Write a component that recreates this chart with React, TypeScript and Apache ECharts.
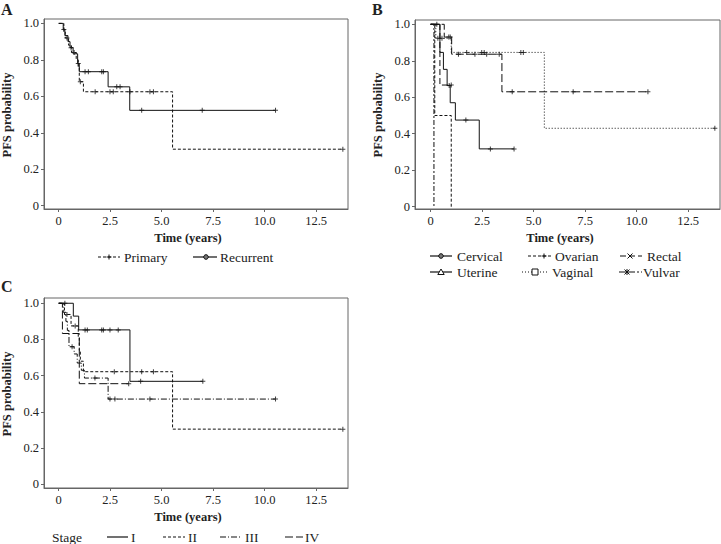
import React, { useEffect, useRef } from 'react';
import * as echarts from 'echarts';

// ---------- axis ticks ----------
const X_TICKS = [0, 2.5, 5, 7.5, 10, 12.5];
const Y_TICKS = [0, 0.2, 0.4, 0.6, 0.8, 1.0];

// ---------- Panel A ----------
const primaryTimes = [0, 0.25, 0.32, 0.48, 0.62, 0.85, 0.95, 1.0, 1.2, 5.53];
const primarySurv = [1, 0.96, 0.92, 0.88, 0.84, 0.8, 0.76, 0.68, 0.625, 0.31];
const primaryEnd = 13.8;
const primaryCensor = [0.4, 0.75, 1.05, 1.77, 2.49, 2.65, 3.46, 4.43, 4.6, 13.8];

const recurrentTimes = [0, 0.22, 0.3, 0.45, 0.55, 0.7, 0.92, 1.0, 2.4, 3.45];
const recurrentSurv = [1, 0.967, 0.933, 0.9, 0.867, 0.833, 0.78, 0.735, 0.652, 0.523];
const recurrentEnd = 10.53;
const recurrentCensor = [0.25, 0.6, 0.95, 1.28, 1.44, 2.09, 2.17, 2.82, 2.98, 4.03, 6.97, 10.53];

// ---------- Panel B ----------
const cervicalTimes = [0, 0.45, 0.62, 0.8, 0.95, 1.2, 2.36];
const cervicalSurv = [1, 0.846, 0.753, 0.664, 0.57, 0.475, 0.317];
const cervicalEnd = 4.05;
const cervicalCensor = [0.9, 1.71, 2.9, 4.05];

const ovarianTimes = [0, 0.2, 1.0];
const ovarianSurv = [1, 0.5, 0];
const ovarianEnd = 1.0;
const ovarianCensor: number[] = [];

const rectalTimes = [0, 0.45];
const rectalSurv = [1, 0.667];
const rectalEnd = 1.0;
const rectalCensor = [1.0];

const uterineTimes = [0, 0.66, 1.02, 3.46];
const uterineSurv = [1, 0.93, 0.836, 0.63];
const uterineEnd = 10.55;
const uterineCensor = [0.3, 0.88, 0.95, 1.35, 2.15, 2.72, 3.33, 3.96, 6.92, 10.55];

const vaginalTimes = [0, 0.25, 1.0, 5.52];
const vaginalSurv = [1, 0.923, 0.846, 0.43];
const vaginalEnd = 13.8;
const vaginalCensor = [0.35, 0.55, 1.75, 2.48, 2.6, 4.38, 4.5, 13.8];

const vulvarTimes = [0, 0.16];
const vulvarSurv = [1, 0];
const vulvarEnd = 0.16;
const vulvarCensor: number[] = [];

// ---------- Panel C ----------
const stage1Times = [0, 0.71, 0.97, 3.46];
const stage1Surv = [1, 0.929, 0.853, 0.569];
const stage1End = 7.0;
const stage1Censor = [0.3, 1.28, 1.39, 2.09, 2.17, 2.49, 2.89, 3.98, 7.0];

const stage2Times = [0, 0.28, 0.6, 0.95, 1.0, 1.05, 1.2, 5.53];
const stage2Surv = [1, 0.938, 0.875, 0.81, 0.74, 0.68, 0.622, 0.305];
const stage2End = 13.8;
const stage2Censor = [0.4, 0.8, 2.7, 4.03, 4.6, 13.8];

const stage3Times = [0, 0.22, 0.35, 0.42, 0.5, 0.75, 0.9, 1.1, 1.25, 2.4];
const stage3Surv = [1, 0.95, 0.9, 0.85, 0.76, 0.72, 0.67, 0.63, 0.587, 0.471];
const stage3End = 10.53;
const stage3Censor = [0.65, 1.76, 2.49, 2.73, 4.43, 10.53];

const stage4Times = [0, 0.18, 1.0];
const stage4Surv = [1, 0.833, 0.556];
const stage4End = 3.4;
const stage4Censor = [3.4];

// ---------- styling ----------
const FONT = "'Liberation Serif', 'Times New Roman', serif";
const INK = '#111';
const FRAME = '#666';
const PLUS = 'path://M2,0H3V5H2ZM0,2H5V3H0Z';

const DASH = [3, 2];
const DOT = [1, 2];
const LONGDASH = [8, 3];
const MIDDASH = [6, 3];
const DOTDASH = [6, 2, 1, 2];
const TWODASH = [5, 2, 2, 2];

function survAt(times: number[], surv: number[], t: number) {
  let s = surv[0];
  for (let i = 0; i < times.length; i++) {
    if (times[i] <= t) s = surv[i];
  }
  return s;
}

function curve(times: number[], surv: number[], end: number, censor: number[], dash: any, g: number) {
  const line: number[][] = times.map((t, i) => [t, surv[i]]);
  if (end > times[times.length - 1]) line.push([end, surv[surv.length - 1]]);
  const cens = censor.map((t) => [t, survAt(times, surv, t)]);
  return [
    {
      type: 'line', xAxisIndex: g, yAxisIndex: g, data: line, step: 'end',
      showSymbol: false, symbol: 'none', silent: true, z: 3,
      lineStyle: { color: INK, width: 1, type: dash },
    },
    {
      type: 'scatter', xAxisIndex: g, yAxisIndex: g, data: cens, symbol: PLUS,
      symbolSize: 5, silent: true, z: 4, itemStyle: { color: INK },
    },
  ];
}

const fmt = (v: number) => (v === 0 ? '0' : v.toFixed(1));

function xAxis(g: number, min: number, max: number) {
  return {
    type: 'value', gridIndex: g, min, max,
    axisLine: { show: true, onZero: false, lineStyle: { color: FRAME, width: 1 } },
    axisTick: { show: true, length: 3, customValues: X_TICKS, lineStyle: { color: FRAME } },
    axisLabel: { customValues: X_TICKS, formatter: fmt, margin: 5, fontFamily: FONT, fontSize: 12.5, color: '#222' },
    splitLine: { show: false },
  };
}
function yAxis(g: number, min: number, max: number) {
  return {
    type: 'value', gridIndex: g, min, max,
    axisLine: { show: true, onZero: false, lineStyle: { color: FRAME, width: 1 } },
    axisTick: { show: true, length: 3, customValues: Y_TICKS, lineStyle: { color: FRAME } },
    axisLabel: { customValues: Y_TICKS, formatter: fmt, margin: 5, fontFamily: FONT, fontSize: 12.5, color: '#222' },
    splitLine: { show: false },
  };
}

function txt(text: string, x: number, y: number, opts: any = {}) {
  return {
    type: 'text', x, y, rotation: opts.rotation || 0, silent: true, z: 10,
    style: {
      text, fill: '#222', fontFamily: FONT, fontSize: opts.size || 13.5,
      fontWeight: opts.bold ? 'bold' : 'normal',
      align: opts.align || 'left', textAlign: opts.align || 'left',
      verticalAlign: 'middle', textVerticalAlign: 'middle',
    },
  };
}

function seg(x1: number, x2: number, y: number, dash: any) {
  return {
    type: 'line', silent: true, z: 10,
    shape: { x1, y1: y, x2, y2: y },
    style: { stroke: INK, lineWidth: 1.2, lineDash: dash },
  };
}

function marker(kind: string, x: number, y: number) {
  const st = { stroke: INK, lineWidth: 1, fill: 'none' };
  const r = 2.5;
  if (kind === 'plus') {
    return [
      { type: 'line', silent: true, z: 11, shape: { x1: x - r, y1: y, x2: x + r, y2: y }, style: st },
      { type: 'line', silent: true, z: 11, shape: { x1: x, y1: y - r, x2: x, y2: y + r }, style: st },
    ];
  }
  if (kind === 'circle') {
    return [{ type: 'circle', silent: true, z: 11, shape: { cx: x, cy: y, r: 2.3 }, style: { stroke: INK, lineWidth: 1, fill: '#777' } }];
  }
  if (kind === 'x') {
    return [
      { type: 'line', silent: true, z: 11, shape: { x1: x - r, y1: y - r, x2: x + r, y2: y + r }, style: st },
      { type: 'line', silent: true, z: 11, shape: { x1: x - r, y1: y + r, x2: x + r, y2: y - r }, style: st },
    ];
  }
  if (kind === 'triangle') {
    return [{ type: 'polygon', silent: true, z: 11, shape: { points: [[x, y - 3], [x - 3.2, y + 2.5], [x + 3.2, y + 2.5]] }, style: { stroke: INK, lineWidth: 1, fill: '#fff' } }];
  }
  if (kind === 'square') {
    return [{ type: 'rect', silent: true, z: 11, shape: { x: x - 3, y: y - 3, width: 6, height: 6 }, style: { stroke: INK, lineWidth: 1, fill: '#fff' } }];
  }
  // star
  return [
    { type: 'line', silent: true, z: 11, shape: { x1: x - r, y1: y - r, x2: x + r, y2: y + r }, style: st },
    { type: 'line', silent: true, z: 11, shape: { x1: x - r, y1: y + r, x2: x + r, y2: y - r }, style: st },
    { type: 'line', silent: true, z: 11, shape: { x1: x - r - 0.5, y1: y, x2: x + r + 0.5, y2: y }, style: st },
    { type: 'line', silent: true, z: 11, shape: { x1: x, y1: y - r - 0.5, x2: x, y2: y + r + 0.5 }, style: st },
  ];
}

export default function App() {
  const ref = useRef<HTMLDivElement>(null);
  useEffect(() => {
    if (!ref.current) return;
    const chart = echarts.init(ref.current, undefined, { renderer: 'svg' });

    const series = [
      ...curve(primaryTimes, primarySurv, primaryEnd, primaryCensor, DASH, 0),
      ...curve(recurrentTimes, recurrentSurv, recurrentEnd, recurrentCensor, 'solid', 0),
      ...curve(cervicalTimes, cervicalSurv, cervicalEnd, cervicalCensor, 'solid', 1),
      ...curve(ovarianTimes, ovarianSurv, ovarianEnd, ovarianCensor, DASH, 1),
      ...curve(rectalTimes, rectalSurv, rectalEnd, rectalCensor, MIDDASH, 1),
      ...curve(uterineTimes, uterineSurv, uterineEnd, uterineCensor, LONGDASH, 1),
      ...curve(vaginalTimes, vaginalSurv, vaginalEnd, vaginalCensor, DOT, 1),
      ...curve(vulvarTimes, vulvarSurv, vulvarEnd, vulvarCensor, TWODASH, 1),
      ...curve(stage1Times, stage1Surv, stage1End, stage1Censor, 'solid', 2),
      ...curve(stage2Times, stage2Surv, stage2End, stage2Censor, DASH, 2),
      ...curve(stage3Times, stage3Surv, stage3End, stage3Censor, DOTDASH, 2),
      ...curve(stage4Times, stage4Surv, stage4End, stage4Censor, LONGDASH, 2),
    ];

    const graphic: any[] = [
      // panel letters
      txt('A', 1, 9, { bold: true, size: 16 }),
      txt('B', 372, 9, { bold: true, size: 16 }),
      txt('C', 1, 286, { bold: true, size: 16 }),
      // axis titles
      txt('PFS probability', 7, 115, { bold: true, size: 12.5, align: 'center', rotation: Math.PI / 2 }),
      txt('PFS probability', 378, 115, { bold: true, size: 12.5, align: 'center', rotation: Math.PI / 2 }),
      txt('PFS probability', 7, 394, { bold: true, size: 12.5, align: 'center', rotation: Math.PI / 2 }),
      txt('Time (years)', 188, 238, { bold: true, size: 12.5, align: 'center' }),
      txt('Time (years)', 560, 238, { bold: true, size: 12.5, align: 'center' }),
      txt('Time (years)', 188, 517, { bold: true, size: 12.5, align: 'center' }),
      // legend A
      seg(98, 120, 257, DASH), ...marker('plus', 109, 257), txt('Primary', 124, 257),
      seg(193, 217, 257, null), ...marker('circle', 206, 257), txt('Recurrent', 220, 257),
      // legend B
      seg(430, 452, 256, null), ...marker('circle', 441, 256), txt('Cervical', 457, 256),
      seg(528, 552, 256, DASH), ...marker('plus', 544, 256), txt('Ovarian', 555, 256),
      seg(620, 642, 256, MIDDASH), ...marker('x', 630, 256), txt('Rectal', 647, 256),
      seg(430, 452, 272, null), ...marker('triangle', 441, 272), txt('Uterine', 457, 272),
      seg(522, 548, 272, DOT), ...marker('square', 535, 272), txt('Vaginal', 552, 272),
      seg(619, 642, 272, TWODASH), ...marker('star', 627, 272), txt('Vulvar', 643, 272),
      // legend C
      txt('Stage', 52, 537),
      seg(107, 128, 537, null), txt('I', 131, 537),
      seg(163, 185, 537, DASH), txt('II', 188, 537),
      seg(220, 241, 537, DOTDASH), txt('III', 245, 537),
      seg(285, 303, 537, LONGDASH), txt('IV', 305, 537),
    ];

    chart.setOption({
      animation: false,
      backgroundColor: '#fff',
      grid: [
        { left: 44, top: 19, width: 304, height: 190, show: true, borderColor: FRAME, borderWidth: 1, backgroundColor: 'transparent' },
        { left: 415, top: 20, width: 305, height: 189, show: true, borderColor: FRAME, borderWidth: 1, backgroundColor: 'transparent' },
        { left: 44, top: 298, width: 304, height: 190, show: true, borderColor: FRAME, borderWidth: 1, backgroundColor: 'transparent' },
      ],
      xAxis: [xAxis(0, -0.714, 14.05), xAxis(1, -0.76, 14.05), xAxis(2, -0.714, 14.05)],
      yAxis: [yAxis(0, -0.018, 1.024), yAxis(1, -0.0126, 1.0236), yAxis(2, -0.02, 1.029)],
      series,
      graphic,
    });
    return () => chart.dispose();
  }, []);

  return <div ref={ref} style={{ position: 'fixed', left: 0, top: 0, width: 721, height: 544, background: '#fff' }} />;
}
